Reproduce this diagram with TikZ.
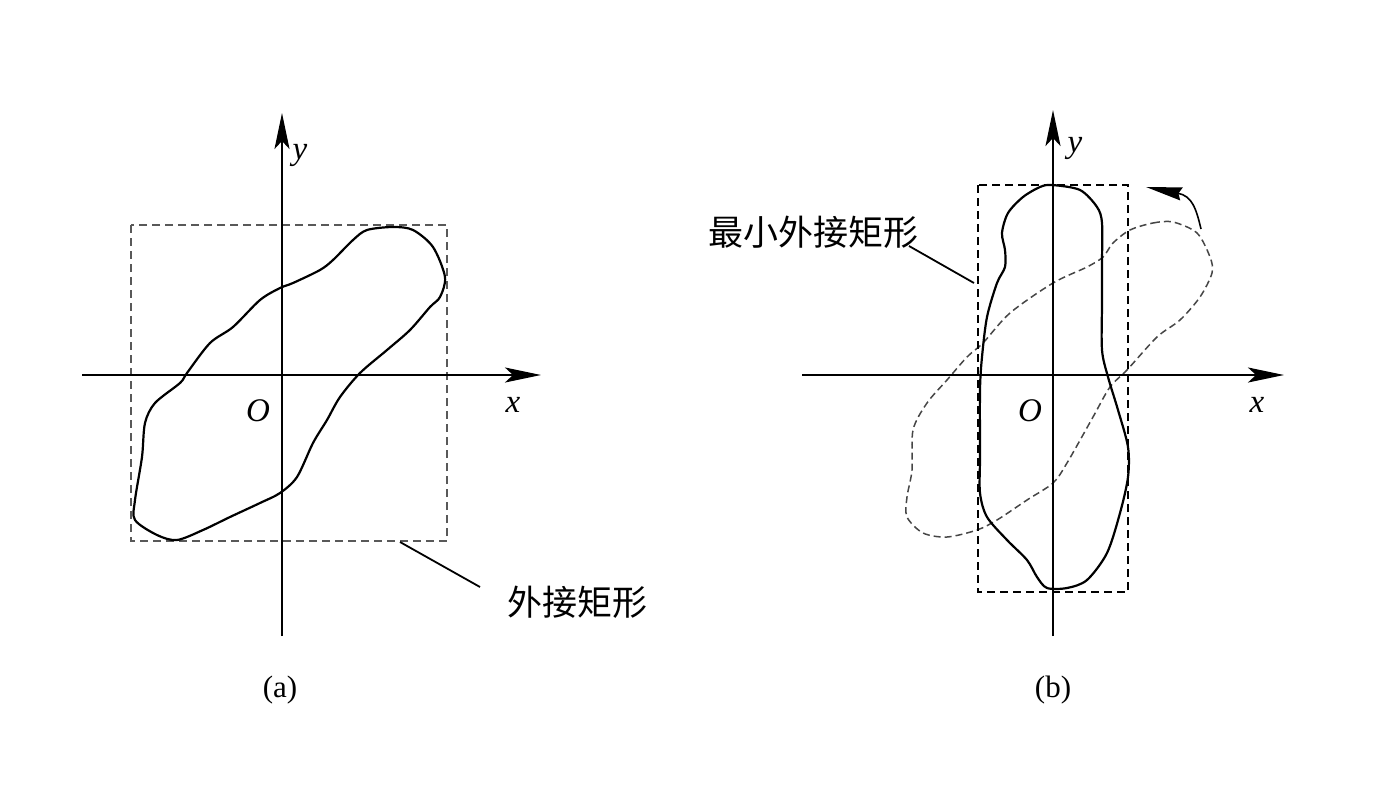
\documentclass[tikz,border=0pt]{standalone}
\usepackage{fontspec}
\setmainfont{Liberation Serif}
\newfontfamily\cjk{Noto Sans CJK SC}
\usetikzlibrary{arrows.meta}
\begin{document}
\begin{tikzpicture}[x=1pt,y=-1pt,
  axis/.style={line width=2.2pt,-{Stealth[length=36pt,width=15pt,inset=8pt]}},
  contour/.style={line width=2.2pt,line join=round},
  dcontour/.style={line width=1.5pt,dash pattern=on 7pt off 4pt,gray!55!black},
  rectbox/.style={line width=1.8pt,dash pattern=on 8pt off 5pt},
  leader/.style={line width=1.8pt},
  lab/.style={font=\fontsize{33}{38}\selectfont\itshape,inner sep=0pt},
  captext/.style={font=\fontsize{31}{36}\selectfont,inner sep=0pt},
  cn/.style={font=\cjk\fontsize{35}{40}\selectfont,inner sep=0pt}]
\useasboundingbox (0,0) rectangle (1392,798);
% ---------- panel (a)
\draw[rectbox,gray!70!black] (131,225) rectangle (447,541);
\draw[contour] plot[smooth cycle,tension=0.5] coordinates {
 (367,230) (393,227) (413,230) (433,247) (445,277) (440,297) (430,307) (410,330)
 (387,350) (360,373) (340,397) (327,420) (313,443) (297,477) (280,493) (260,503)
 (230,517) (203,530) (177,540) (157,535) (135,520) (135,500) (142,457) (145,423)
 (155,403) (180,383) (187,373) (210,343) (233,327) (260,300) (280,288) (293,283)
 (320,270) (333,260) (353,240)};
\coordinate (ax0) at (82,375);
\coordinate (ax1) at (541,375);
\coordinate (ay0) at (282,636);
\coordinate (ay1) at (282,113);
\draw[axis] (ax0) -- (ax1);
\draw[axis] (ay0) -- (ay1);
\node[lab] (ya) at (300,155) {y};
\node[lab] (xa) at (513,405) {x};
\node[lab] (oa) at (258,411) {O};
\node[captext] (capa) at (280,690) {(a)};
\node[cn] (wja) at (577,602) {外接矩形};
\coordinate (la0) at (400,542);
\coordinate (la1) at (480,587);
\draw[leader] (la0) -- (la1);
% ---------- panel (b)
\draw[dcontour] plot[smooth cycle,tension=0.5] coordinates {
 (1130,230) (1153,223) (1173,222) (1197,233) (1210,257) (1212,273) (1200,297)
 (1180,320) (1157,337) (1127,370) (1110,387) (1093,417) (1067,463) (1053,483)
 (1027,500) (997,520) (977,530) (947,537) (923,533) (907,517) (907,497) (912,470)
 (913,430) (927,403) (947,380) (967,357) (983,343) (1010,313) (1053,283) (1087,267)
 (1103,257) (1113,243)};
\draw[rectbox] (978,185) rectangle (1128,592);
\draw[contour] plot[smooth cycle,tension=0.5] coordinates {
 (1052,185) (1080,190) (1097,207) (1102,223) (1102,263) (1102,303) (1102,350)
 (1108,377) (1118,410) (1128,447) (1128,477) (1120,513) (1107,553) (1087,580)
 (1067,588) (1047,588) (1037,577) (1027,560) (1007,540) (987,517) (980,493)
 (980,457) (980,390) (982,357) (987,317) (997,283) (1005,267) (1005,250)
 (1002,233) (1008,213) (1023,197) (1040,187)};
\coordinate (bx0) at (802,375);
\coordinate (bx1) at (1284,375);
\coordinate (by0) at (1053,636);
\coordinate (by1) at (1053,110);
\draw[axis] (bx0) -- (bx1);
\draw[axis] (by0) -- (by1);
\node[lab] (yb) at (1075,148) {y};
\node[lab] (xb) at (1257,405) {x};
\node[lab] (ob) at (1030,411) {O};
\node[captext] (capb) at (1053,690) {(b)};
\node[cn] (wjb) at (813,232) {最小外接矩形};
\coordinate (lb0) at (909,246);
\coordinate (lb1) at (974,283);
\draw[leader] (lb0) -- (lb1);
\coordinate (rot0) at (1201,229);
\coordinate (rot1) at (1146,187);
\draw[line width=1.6pt,-{Stealth[length=36pt,width=13pt,inset=3pt]}] (rot0) .. controls (1196,208) and (1192,196) .. (rot1);
\end{tikzpicture}
\end{document}
